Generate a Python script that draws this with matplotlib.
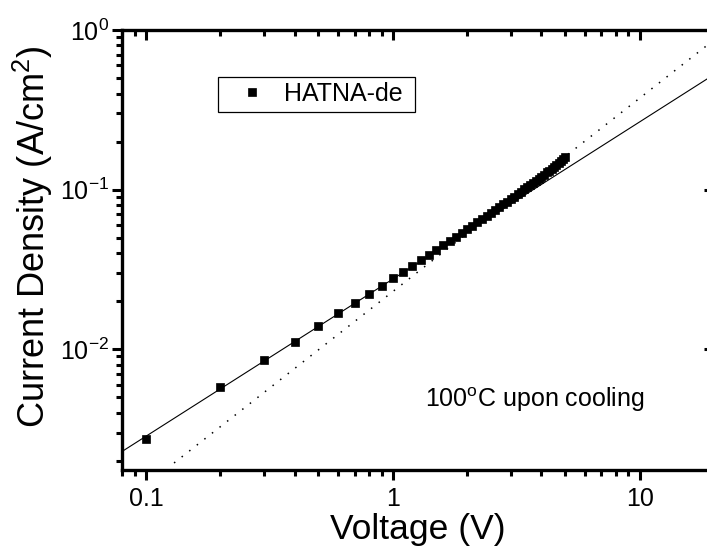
import matplotlib
matplotlib.use("Agg")
import matplotlib.pyplot as plt
from matplotlib.ticker import LogLocator, FuncFormatter, NullFormatter

plt.rcParams["font.family"] = ["Liberation Sans", "DejaVu Sans"]
plt.rcParams["mathtext.fontset"] = "custom"
plt.rcParams["mathtext.rm"] = "Liberation Sans"
plt.rcParams["mathtext.it"] = "Liberation Sans:italic"
plt.rcParams["mathtext.bf"] = "Liberation Sans:bold"

# ---- data ----
voltage = [0.1, 0.2, 0.3, 0.4, 0.5, 0.6, 0.7, 0.8, 0.9, 1.0,
           1.1, 1.2, 1.3, 1.4, 1.5, 1.6, 1.7, 1.8, 1.9, 2.0,
           2.1, 2.2, 2.3, 2.4, 2.5, 2.6, 2.7, 2.8, 2.9, 3.0,
           3.1, 3.2, 3.3, 3.4, 3.5, 3.6, 3.7, 3.8, 3.9, 4.0,
           4.1, 4.2, 4.3, 4.4, 4.5, 4.6, 4.7, 4.8, 4.9, 5.0]
current = [0.00275, 0.00579, 0.00850, 0.01117, 0.01402, 0.01684, 0.01944, 0.02224, 0.02494, 0.02786,
           0.0306, 0.0334, 0.0362, 0.0390, 0.0418, 0.0447, 0.0476, 0.0505, 0.0534, 0.0563,
           0.0593, 0.0624, 0.0654, 0.0685, 0.0715, 0.0746, 0.0778, 0.0809, 0.0841, 0.0872,
           0.0904, 0.0937, 0.0969, 0.1002, 0.1034, 0.1068, 0.1102, 0.1137, 0.1172, 0.1207,
           0.1243, 0.1280, 0.1317, 0.1354, 0.1391, 0.1430, 0.1470, 0.1510, 0.1550, 0.1597]
ohmic_fit_v = [0.08, 20.0]
ohmic_fit_j = [0.002285, 0.5258]
sclc_fit_v = [0.13, 20.0]
sclc_fit_j = [0.001937, 0.8667]
series_label = "HATNA-de "
x_label = "Voltage (V)"
y_label = "Current Density (A/cm$^{\\mathregular{2}}$)"
note = "100$^{\\mathregular{o}}$C upon cooling"

W, H = 707, 550
fig = plt.figure(figsize=(W / 100, H / 100), dpi=100)
L, R, T, B = 122, 714, 30, 470
ax = fig.add_axes([L / W, 1 - B / H, (R - L) / W, (B - T) / H])

ax.plot(ohmic_fit_v, ohmic_fit_j, "-", color="black", lw=0.8)
ax.plot(sclc_fit_v, sclc_fit_j, color="black", lw=1.1, linestyle=(0, (1, 5.3)))
ax.plot(voltage, current, "s", color="black", ms=6.3, mew=0.5, label=series_label,
        linestyle="none")

ax.set_xscale("log")
ax.set_yscale("log")
ax.set_xlim(0.08, 20)
ax.set_ylim(0.00175, 1)

ax.xaxis.set_major_locator(LogLocator(base=10, numticks=10))
ax.xaxis.set_minor_locator(LogLocator(base=10, subs=range(2, 10), numticks=20))
ax.yaxis.set_major_locator(LogLocator(base=10, numticks=10))
ax.yaxis.set_minor_locator(LogLocator(base=10, subs=range(2, 10), numticks=20))
ax.xaxis.set_major_formatter(FuncFormatter(lambda v, p: f"{v:g}"))
ax.xaxis.set_minor_formatter(NullFormatter())
ax.yaxis.set_minor_formatter(NullFormatter())

for s in ax.spines.values():
    s.set_linewidth(2.4)

ax.tick_params(which="major", direction="out", length=7, width=2.2, labelsize=18,
               top=False, right=False)
ax.tick_params(which="minor", direction="out", length=4.3, width=2.2,
               top=False, right=False)
ax.tick_params(axis="x", which="major", pad=5)
ax.tick_params(axis="y", which="major", pad=2)

# mirrored inward ticks on top and right
ax2 = fig.add_axes(ax.get_position(), sharex=ax, sharey=ax, frameon=False)
ax2.tick_params(which="both", direction="in", top=True, right=True, bottom=False,
                left=False, labelbottom=False, labelleft=False, width=2.2)
ax2.tick_params(which="major", length=7.5)
ax2.tick_params(which="minor", length=4.5)
ax2.patch.set_visible(False)

ax.set_xlabel(x_label, fontsize=25.5, labelpad=2)
ax.set_ylabel(y_label, fontsize=26, labelpad=4)
ax.yaxis.label.set_y(0.53)

leg = ax.legend(loc="upper left", bbox_to_anchor=(218 / W, 1 - 76.7 / H),
                bbox_transform=fig.transFigure, borderaxespad=0, fontsize=18,
                frameon=True, fancybox=False, edgecolor="black", framealpha=1,
                borderpad=0.22, handlelength=2.3, handletextpad=0.13, numpoints=1)
leg.get_frame().set_linewidth(0.9)
leg.set_zorder(5)

fig.text(425 / W, 1 - 406.7 / H, note, fontsize=18, ha="left", va="baseline")

fig.savefig("out.png", dpi=100)
